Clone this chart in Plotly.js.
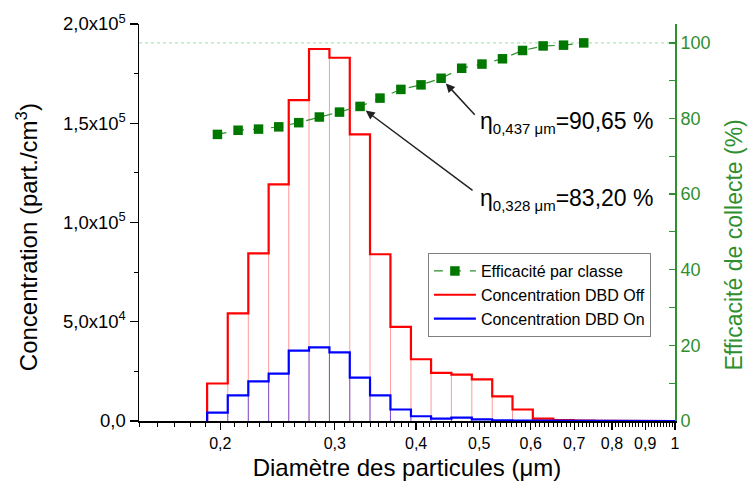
<!DOCTYPE html>
<html>
<head>
<meta charset="utf-8">
<script src="https://cdn.plot.ly/plotly-3.0.1.min.js"></script>
<style>html,body{margin:0;padding:0;background:#fff}#chart{width:748px;height:489px}</style>
</head>
<body>
<div id="chart"></div>
<script>
// Bin centres (µm), 32 classes per decade
const diametres = [0.198,0.213,0.229,0.246,0.264,0.284,0.305,0.328,0.352,0.379,0.407,0.437,0.470,0.505,0.543,0.583,0.627,0.674,0.724,0.778,0.836,0.898,0.965];
// Concentration (part./cm3)
const concOff = [18900,54200,84400,119200,161700,187400,183000,144400,84000,47400,31100,24200,23400,21000,12400,5800,1200,400,250,100,50,0,0];
const concOn  = [4200,12900,20000,23900,35500,37100,34600,21900,12900,5800,2400,1200,1700,850,300,200,150,100,50,30,0,0,0];
// Efficacité par classe (%)
const efficacite = [75.8,76.9,77.2,77.8,78.9,80.4,81.7,83.2,85.4,87.7,88.9,90.65,93.3,94.4,95.8,98.0,99.2,99.4,100.0];

const xTickVals = [0.2,0.3,0.4,0.5,0.6,0.7,0.8,0.9,1];
const xTickText = ["0,2","0,3","0,4","0,5","0,6","0,7","0,8","0,9","1"];
const yTickVals = [0,50000,100000,150000,200000];
const yTickText = ["0,0","5,0x10<sup>4</sup>","1,0x10<sup>5</sup>","1,5x10<sup>5</sup>","2,0x10<sup>5</sup>"];
const y2TickVals = [0,20,40,60,80,100];

// bin edges (geometric midpoints)
const N = diametres.length;
const edges = [];
edges.push(diametres[0] / Math.sqrt(diametres[1] / diametres[0]));
for (let i = 1; i < N; i++) edges.push(Math.sqrt(diametres[i-1] * diametres[i]));
edges.push(diametres[N-1] * Math.sqrt(diametres[N-1] / diametres[N-2]));

function outline(h) {
  const x = [edges[0]], y = [0];
  for (let i = 0; i < N; i++) { x.push(edges[i], edges[i+1]); y.push(h[i], h[i]); }
  x.push(edges[N]); y.push(0);
  return {x, y};
}
function inner(h) {
  const x = [], y = [];
  for (let i = 1; i < N; i++) { x.push(edges[i], edges[i], null); y.push(0, Math.min(h[i-1], h[i]), null); }
  return {x, y};
}
const minorX = [];
for (let k = 15; k < 100; k++) { if (k % 10 !== 0) minorX.push(k / 100); }

const FONT = 'Arial, "Liberation Sans", sans-serif';
const GREEN = '#2f8f2f';

const oOff = outline(concOff), oOn = outline(concOn), iOff = inner(concOff), iOn = inner(concOn);
const traces = [
  {x: diametres.slice(0, efficacite.length), y: efficacite, yaxis: 'y2', type: 'scatter', mode: 'lines+markers',
   name: 'Efficacité par classe', line: {color: '#2e8f2e', width: 1.2, dash: 'dash'},
   marker: {symbol: 'square', size: 9.5, color: '#007800'}},
  {x: iOff.x, y: iOff.y, type: 'scatter', mode: 'lines', line: {color: 'rgba(255,0,0,0.4)', width: 1}, showlegend: false, hoverinfo: 'skip'},
  {x: iOn.x, y: iOn.y, type: 'scatter', mode: 'lines', line: {color: 'rgba(0,0,255,0.5)', width: 1}, showlegend: false, hoverinfo: 'skip'},
  {x: oOff.x, y: oOff.y, type: 'scatter', mode: 'lines', name: 'Concentration DBD Off', line: {color: '#ff0000', width: 2.2}},
  {x: oOn.x, y: oOn.y, type: 'scatter', mode: 'lines', name: 'Concentration DBD On', line: {color: '#0000ff', width: 2.2}}
];

const layout = {
  width: 748, height: 489,
  margin: {l: 139, r: 73, t: 24, b: 68},
  paper_bgcolor: '#fff', plot_bgcolor: '#fff',
  font: {family: FONT, color: '#000', size: 16},
  showlegend: true,
  legend: {x: 0.539, y: 0.423, xanchor: 'left', yanchor: 'top', bgcolor: '#fff',
           bordercolor: '#808080', borderwidth: 1, font: {family: FONT, size: 16, color: '#000'},
           tracegroupgap: 0, itemwidth: 42},
  xaxis: {type: 'log', range: [Math.log10(0.15), 0], tickmode: 'array', tickvals: xTickVals, ticktext: xTickText,
          ticks: 'outside', ticklen: 7, tickwidth: 1.3, tickcolor: '#000', showline: true, linecolor: '#000', linewidth: 1.5,
          showgrid: false, zeroline: false, tickfont: {size: 16, family: FONT},
          minor: {tickmode: 'array', tickvals: minorX, ticks: 'outside', ticklen: 4, tickwidth: 1, tickcolor: '#000'},
          title: {text: 'Diamètre des particules (μm)', font: {size: 24, family: FONT}, standoff: 8}},
  xaxis2: {type: 'log', range: [Math.log10(0.15), 0], overlaying: 'x', side: 'top', anchor: 'y',
           tickmode: 'array', tickvals: xTickVals, showticklabels: false, ticks: 'inside', ticklen: 6, tickwidth: 1.3, tickcolor: '#000',
           showline: true, linecolor: '#000', linewidth: 1.5, showgrid: false, zeroline: false,
           minor: {tickmode: 'array', tickvals: minorX, ticks: 'inside', ticklen: 4, tickwidth: 1, tickcolor: '#000'}},
  yaxis: {range: [0, 200000], tickmode: 'array', tickvals: yTickVals, ticktext: yTickText,
          ticks: 'outside', ticklen: 8, tickwidth: 1.3, tickcolor: '#000', showline: true, linecolor: '#000', linewidth: 1.5,
          showgrid: false, zeroline: false, tickfont: {size: 18.5, family: FONT},
          minor: {dtick: 25000, ticks: 'outside', ticklen: 4, tickwidth: 1, tickcolor: '#000'}},
  yaxis2: {range: [0, 105], overlaying: 'y', side: 'right', tickmode: 'array', tickvals: y2TickVals,
           ticks: 'inside', ticklen: 6, tickwidth: 1.3, tickcolor: GREEN, showline: true, linecolor: GREEN, linewidth: 1.8,
           showgrid: false, zeroline: false, tickfont: {size: 18, family: FONT, color: GREEN},
           minor: {dtick: 10, ticks: 'inside', ticklen: 6, tickwidth: 1, tickcolor: GREEN}},
  shapes: [
    {type: 'line', xref: 'paper', x0: 0, x1: 1, yref: 'y2', y0: 100, y1: 100,
     line: {color: '#9be09b', width: 1, dash: 'dot'}, layer: 'below'}
  ],
  annotations: [
    {x: -0.209, y: 0.463, xref: 'paper', yref: 'paper', xanchor: 'center', yanchor: 'middle', textangle: -90, showarrow: false,
     text: 'Concentration (part./cm<sup>3</sup>)', font: {size: 24, family: FONT, color: '#000'}},
    {x: 1.111, y: 0.443, xref: 'paper', yref: 'paper', xanchor: 'center', yanchor: 'middle', textangle: -90, showarrow: false,
     text: 'Efficacité de collecte (%)', font: {size: 23, family: FONT, color: GREEN}},
    {x: Math.log10(diametres[11]), y: efficacite[11], xref: 'x', yref: 'y2', text: '', showarrow: true,
     ax: 35, ay: 38, arrowhead: 2, arrowsize: 1.2, arrowwidth: 1.5, arrowcolor: '#222', standoff: 7},
    {x: Math.log10(diametres[7]), y: efficacite[7], xref: 'x', yref: 'y2', text: '', showarrow: true,
     ax: 114, ay: 85, arrowhead: 2, arrowsize: 1.2, arrowwidth: 1.5, arrowcolor: '#222', standoff: 7},
    {x: 0.632, y: 0.753, xref: 'paper', yref: 'paper', xanchor: 'left', yanchor: 'middle', showarrow: false,
     text: "η<sub><span style='font-size:15px'>0,437 μm</span></sub>=90,65 %", font: {size: 23, family: FONT, color: '#000'}},
    {x: 0.632, y: 0.558, xref: 'paper', yref: 'paper', xanchor: 'left', yanchor: 'middle', showarrow: false,
     text: "η<sub><span style='font-size:15px'>0,328 μm</span></sub>=83,20 %", font: {size: 23, family: FONT, color: '#000'}}
  ]
};

Plotly.newPlot('chart', traces, layout, {displayModeBar: false, staticPlot: true});
</script>
</body>
</html>
